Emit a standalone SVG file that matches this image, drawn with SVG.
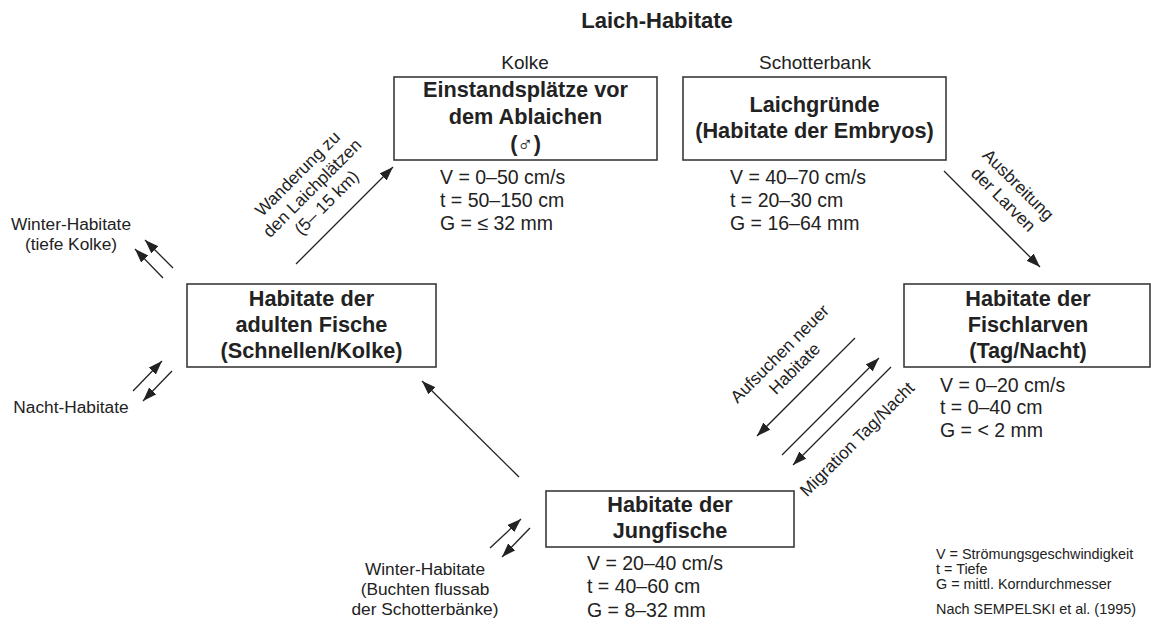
<svg xmlns="http://www.w3.org/2000/svg" width="1151" height="629" viewBox="0 0 1151 629">
<style>
text{font-family:"Liberation Sans","DejaVu Sans",Arial,sans-serif;fill:#222}
.b{font-weight:bold;font-size:21.7px;text-anchor:middle}
.t{font-weight:bold;font-size:22px;text-anchor:middle}
.d{font-size:19.5px}
.s{font-size:19px;text-anchor:middle}
.l{font-size:17.3px;text-anchor:middle}
.g{font-size:14.4px}
.box{fill:#fff;stroke:#3a3a3a;stroke-width:1.6}
.c line{stroke:#222;stroke-width:1.3;marker-end:url(#ah)}
</style>
<defs>
<marker id="ah" markerUnits="userSpaceOnUse" markerWidth="15" markerHeight="11" refX="14" refY="5" orient="auto">
<path d="M0,0 L14,5 L0,10 z" fill="#222"/>
</marker>
</defs>
<rect width="1151" height="629" fill="#fff"/>
<text class="t" x="657" y="28">Laich-Habitate</text>

<g id="einstand">
<text class="s" x="525" y="69">Kolke</text>
<rect class="box" x="394" y="77" width="263" height="83"/>
<text class="b" x="525.5" y="97">Einstandsplätze vor</text>
<text class="b" x="525.5" y="124">dem Ablaichen</text>
<text class="b" x="525.5" y="151">(♂)</text>
<text class="d" x="440" y="184">V = 0–50 cm/s</text>
<text class="d" x="440" y="207">t = 50–150 cm</text>
<text class="d" x="440" y="230">G = ≤ 32 mm</text>
</g>

<g id="laichgruende">
<text class="s" x="815" y="69">Schotterbank</text>
<rect class="box" x="683" y="77" width="263" height="83"/>
<text class="b" x="814.5" y="112">Laichgründe</text>
<text class="b" x="814.5" y="138">(Habitate der Embryos)</text>
<text class="d" x="730" y="184">V = 40–70 cm/s</text>
<text class="d" x="730" y="207">t = 20–30 cm</text>
<text class="d" x="730" y="230">G = 16–64 mm</text>
</g>

<g id="adulte">
<rect class="box" x="187" y="284" width="249" height="83"/>
<text class="b" x="311.5" y="306">Habitate der</text>
<text class="b" x="311.5" y="332">adulten Fische</text>
<text class="b" x="311.5" y="358">(Schnellen/Kolke)</text>
</g>

<g id="fischlarven">
<rect class="box" x="904" y="284" width="246" height="83"/>
<text class="b" x="1028" y="306">Habitate der</text>
<text class="b" x="1028" y="332">Fischlarven</text>
<text class="b" x="1028" y="358">(Tag/Nacht)</text>
<text class="d" x="940" y="392">V = 0–20 cm/s</text>
<text class="d" x="940" y="414">t = 0–40 cm</text>
<text class="d" x="940" y="437">G = &lt; 2 mm</text>
</g>

<g id="jungfische">
<rect class="box" x="546" y="491" width="248" height="56"/>
<text class="b" x="670" y="512">Habitate der</text>
<text class="b" x="670" y="538">Jungfische</text>
<text class="d" x="587" y="570">V = 20–40 cm/s</text>
<text class="d" x="587" y="593">t = 40–60 cm</text>
<text class="d" x="587" y="617">G = 8–32 mm</text>
</g>

<g id="winter-kolke">
<text class="l" x="71" y="230">Winter-Habitate</text>
<text class="l" x="71" y="250">(tiefe Kolke)</text>
</g>
<g id="nacht">
<text class="l" x="71" y="413">Nacht-Habitate</text>
</g>
<g id="winter-buchten">
<text class="l" x="425" y="575">Winter-Habitate</text>
<text class="l" x="425" y="595">(Buchten flussab</text>
<text class="l" x="425" y="615">der Schotterbänke)</text>
</g>

<g id="legende">
<text class="g" x="936" y="559">V = Strömungsgeschwindigkeit</text>
<text class="g" x="936" y="574">t = Tiefe</text>
<text class="g" x="936" y="589">G = mittl. Korndurchmesser</text>
<text class="g" x="936" y="614">Nach SEMPELSKI et al. (1995)</text>
</g>

<g id="labels">
<g transform="translate(312,188) rotate(-45)">
<text class="l" x="0" y="-14.5">Wanderung zu</text>
<text class="l" x="0" y="6">den Laichplätzen</text>
<text class="l" x="0" y="26.5">(5– 15 km)</text>
</g>
<g transform="translate(1011,192) rotate(45)">
<text class="l" x="0" y="-4.5">Ausbreitung</text>
<text class="l" x="0" y="16.5">der Larven</text>
</g>
<g transform="translate(787,361) rotate(-45)">
<text class="l" x="0" y="-4.5">Aufsuchen neuer</text>
<text class="l" x="0" y="16.5">Habitate</text>
</g>
<g transform="translate(857,439) rotate(-45)">
<text class="l" x="0" y="6">Migration Tag/Nacht</text>
</g>
</g>

<g id="connectors" class="c">
<line x1="296" y1="264" x2="393" y2="167"/>
<line x1="944" y1="171" x2="1040" y2="267"/>
<line x1="855" y1="338" x2="757" y2="436"/>
<line x1="782" y1="455" x2="879" y2="358"/>
<line x1="891" y1="367" x2="793" y2="465"/>
<line x1="519" y1="477" x2="422" y2="381"/>
<line x1="173" y1="268" x2="145" y2="240"/>
<line x1="163" y1="278" x2="135" y2="249"/>
<line x1="133" y1="391" x2="162" y2="361"/>
<line x1="172" y1="371" x2="143" y2="401"/>
<line x1="490" y1="548" x2="521" y2="519"/>
<line x1="530" y1="528" x2="502" y2="557"/>
</g>
</svg>
